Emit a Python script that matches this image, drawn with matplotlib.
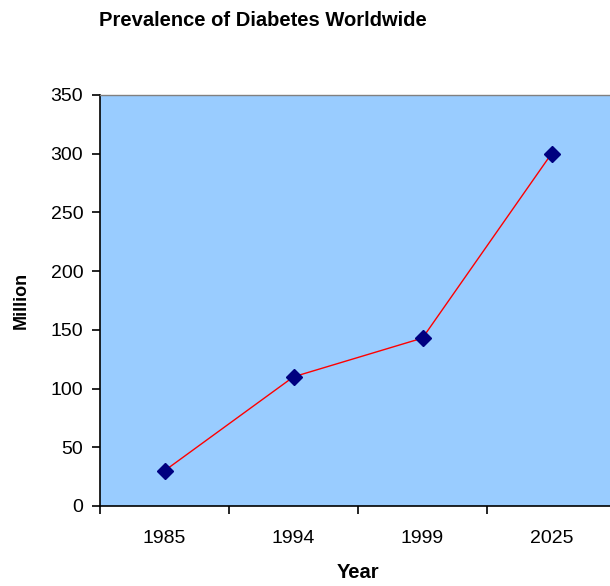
import numpy as np
import matplotlib
matplotlib.use("Agg")
import matplotlib.pyplot as plt

# data
years = ["1985", "1994", "1999", "2025"]
million = [30, 110, 143, 300]

plt.rcParams["font.family"] = ["Liberation Sans", "DejaVu Sans"]

fig = plt.figure(figsize=(6.10, 5.86), dpi=100)
ax = fig.add_axes([100 / 610, 80 / 586, 516 / 610, 411 / 586])
ax.set_facecolor("#99CCFF")

x = np.arange(len(years))
ax.plot(x, million, color="#FF0000", linewidth=1.0, zorder=2)
ax.plot(x, million, linestyle="none", marker="D", markersize=8,
        color="#000080", zorder=3)

ax.set_xlim(-0.5, len(years) - 0.5)
ax.set_ylim(0, 350)
ax.set_yticks(np.arange(0, 351, 50))

# category labels between the tick marks
ax.set_xticks(x)
ax.set_xticklabels(years)
ax.set_xticks(np.arange(-0.5, len(years)), minor=True)
ax.tick_params(axis="x", which="major", length=0, pad=17, labelsize=14)
ax.tick_params(axis="x", which="minor", length=6, width=1.2, color="black")
ax.tick_params(axis="y", length=6, width=1.2, labelsize=14, pad=6)

for side in ["left", "bottom"]:
    ax.spines[side].set_color("black")
    ax.spines[side].set_linewidth(1.2)
ax.spines["top"].set_color("#808080")
ax.spines["top"].set_linewidth(1.0)
ax.spines["right"].set_visible(False)

ax.set_xlabel("Year", fontsize=14.5, fontweight="bold", labelpad=12)
ax.set_ylabel("Million", fontsize=13, fontweight="bold", labelpad=15)

fig.text(263 / 610, 1 - 21 / 586, "Prevalence of Diabetes Worldwide",
         ha="center", va="center", fontsize=14.5, fontweight="bold")

fig.savefig("out.png", dpi=100)
